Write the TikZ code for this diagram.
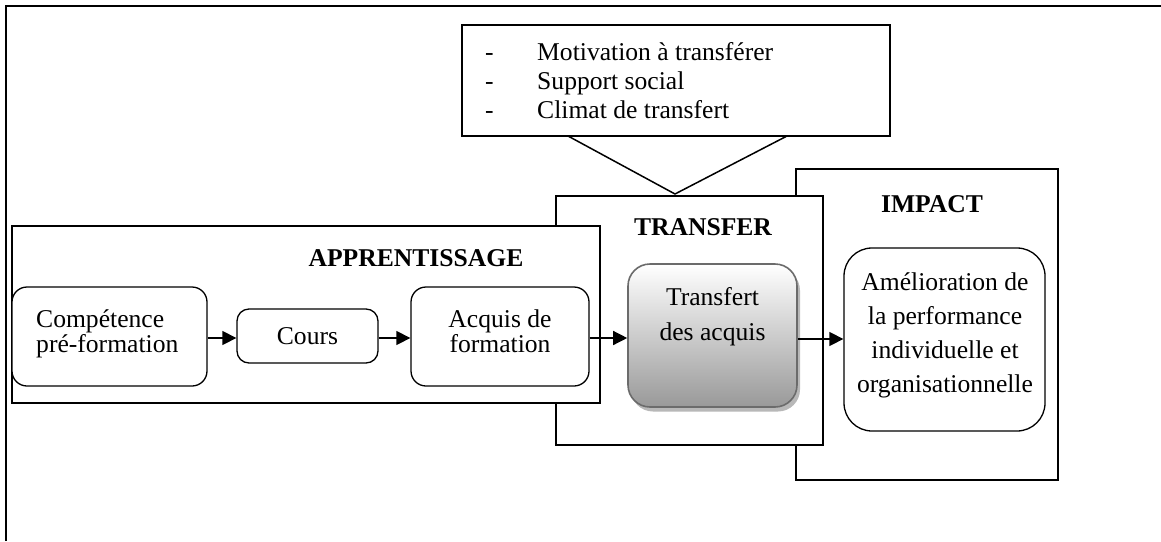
\documentclass[tikz,border=0pt]{standalone}
\usepackage{fontspec}
\setmainfont{Liberation Serif}
\usetikzlibrary{arrows.meta}
\newcommand\mylines[3]{{\fontsize{25.6}{#1}\selectfont\begin{tabular}{@{}#2@{}}#3\end{tabular}}}
\tikzset{
  frame/.style={draw=black, fill=white, line width=1.3pt, inner sep=0pt},
  rbox/.style={draw=black, fill=white, line width=1.3pt, inner sep=0pt},
  txt/.style={inner sep=0pt, font=\fontsize{25.6}{29}\selectfont},
  head/.style={inner sep=0pt, font=\fontsize{25.6}{29}\selectfont\bfseries},
  arr/.style={line width=1.3pt, -{Triangle[length=14pt,width=14pt]}},
}
\begin{document}
\begin{tikzpicture}[x=1pt,y=-1pt]
\useasboundingbox (0,0) rectangle (1161,541);
% outer frame
\draw[line width=2.2pt] (6,541) -- (6,6) -- (1161,6);
% top box
\node[frame, line width=2pt, minimum width=428pt, minimum height=111pt] (topbox) at (676,80.5) {};
\node[inner sep=0pt, anchor=north west] (toptext) at (485,39.7)
  {{\fontsize{25.6}{29}\selectfont\begin{tabular}{@{}l@{\hspace{43.5pt}}l@{}}-&Motivation à transférer\\-&Support social\\-&Climat de transfert\end{tabular}}};
\coordinate (tl) at (568,136);
\coordinate (apex) at (675,194);
\coordinate (tr) at (787,136);
\draw[line width=1.5pt] (tl) -- (apex) -- (tr);
% frames (back to front)
\node[frame, minimum width=262pt, minimum height=311pt] (frameI) at (927,324.5) {};
\node[frame, minimum width=267pt, minimum height=249pt] (frameT) at (689.5,320.5) {};
\node[frame, minimum width=588pt, minimum height=177pt] (frameA) at (306,314.5) {};
% headings
\node[head, anchor=base] (hA) at (416,266) {APPRENTISSAGE};
\node[head, anchor=base] (hT) at (703,235) {TRANSFER};
\node[head, anchor=base] (hI) at (932,212) {IMPACT};
% inner boxes
\node[rbox, rounded corners=15pt, minimum width=195pt, minimum height=99pt] (comp) at (109.5,336.5) {};
\node[inner sep=0pt, anchor=north west] (compt) at (36,309.1) {\mylines{25.5}{l}{Compétence\\pré-formation}};
\node[rbox, rounded corners=12pt, minimum width=141pt, minimum height=54pt] (cours) at (307.5,336) {};
\node[txt, anchor=base] (courst) at (307.5,344) {Cours};
\node[rbox, rounded corners=15pt, minimum width=178pt, minimum height=99pt] (acq) at (500,336.5) {};
\node[inner sep=0pt, anchor=north] (acqt) at (500,309.1) {\mylines{25.5}{c}{Acquis de\\formation}};
\node[fill=black!28, rounded corners=22pt, inner sep=0pt, minimum width=169pt, minimum height=143pt] (transsh) at (715.5,340) {};
\node[draw=black!58, line width=1.6pt, top color=white, bottom color=black!40, rounded corners=22pt, inner sep=0pt, minimum width=169pt, minimum height=143pt] (trans) at (712.5,335.5) {};
\node[inner sep=0pt, anchor=north] (transt) at (712.5,280.5) {\mylines{35}{c}{Transfert\\des acquis}};
\node[rbox, rounded corners=28pt, minimum width=201pt, minimum height=183pt] (amel) at (944.5,339.5) {};
\node[inner sep=0pt, anchor=north] (amelt) at (945,266.2) {\mylines{34}{c}{Amélioration de\\la performance\\individuelle et\\organisationnelle}};
% arrows
\draw[arr] (comp.east |- 0,338) -- (cours.west |- 0,338);
\draw[arr] (cours.east |- 0,338) -- (acq.west |- 0,338);
\draw[arr] (acq.east |- 0,338) -- (trans.west |- 0,338);
\draw[arr] (trans.east |- 0,339) -- (amel.west |- 0,339);
\end{tikzpicture}
\end{document}
